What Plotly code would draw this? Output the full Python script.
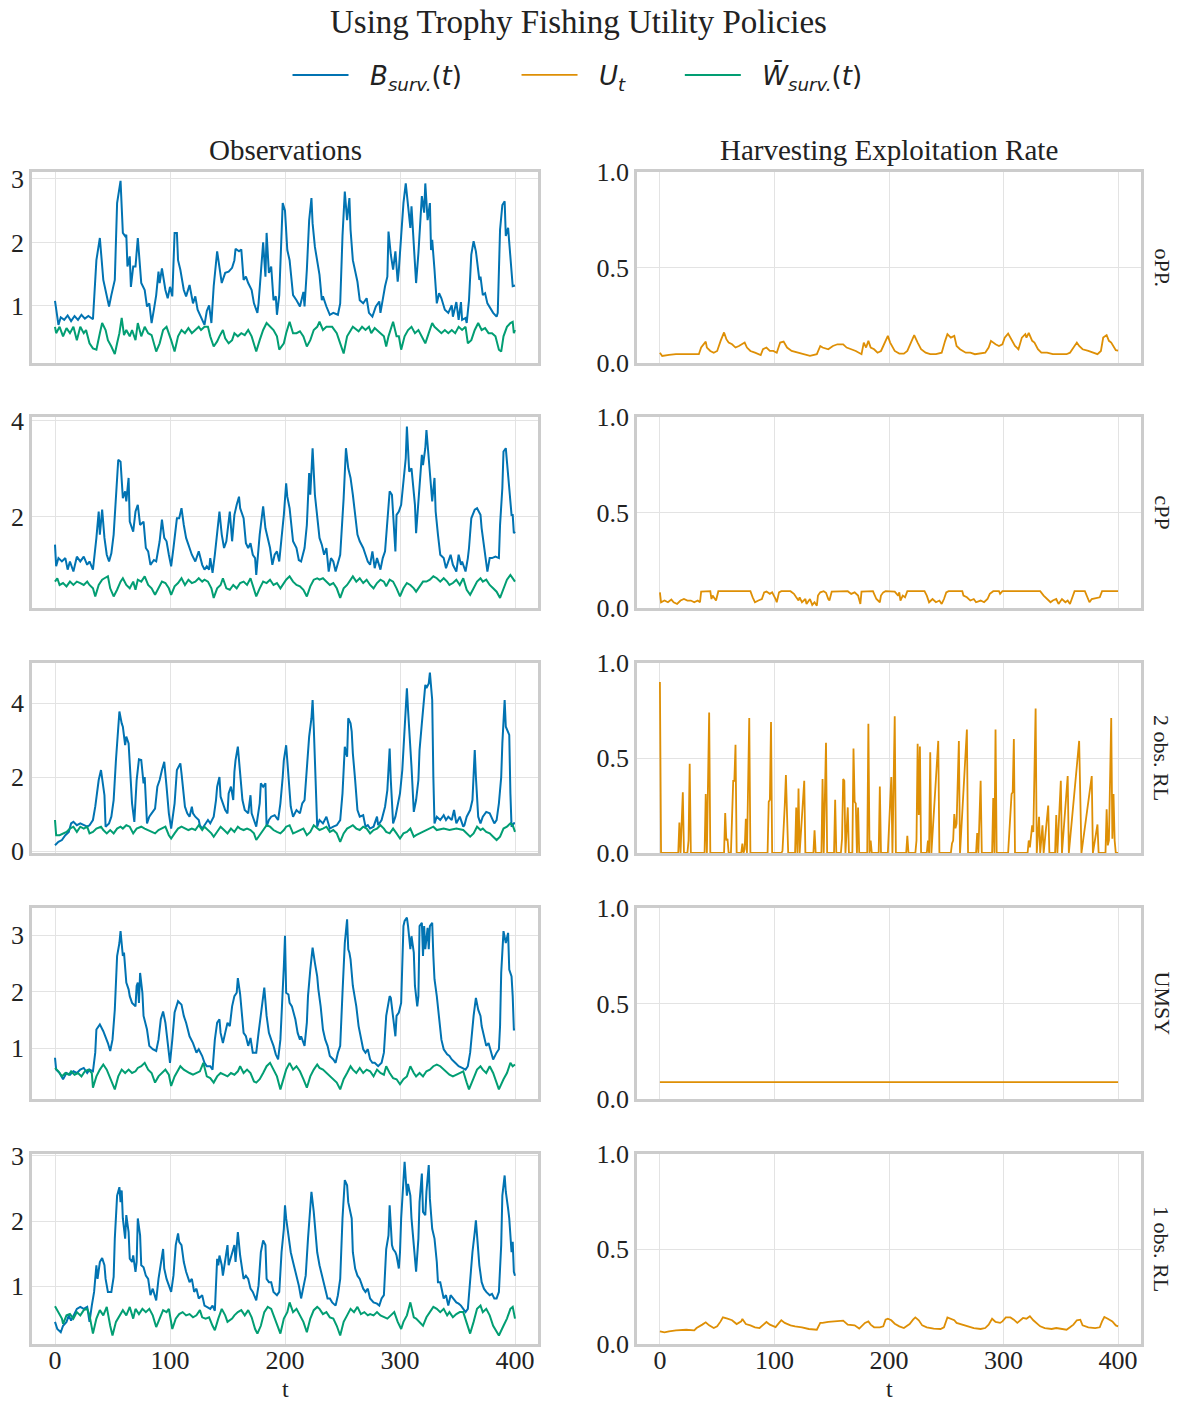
import plotly.graph_objects as go

# ---------------- data (t, value) ----------------
B_opp = [(0,1.08),(3,0.70),(5,0.82),(8,0.78),(11,0.85),(14,0.76),(17,0.84),(20,0.78),(23,0.86),(26,0.80),(29,0.84),(33,0.79),(36,1.72),(39,2.07),(42,1.41),(45,1.17),(47,0.99),(49,1.17),(52,1.41),(54,2.62),(57,2.97),(59,2.15),(61,2.10),(62,2.12),(63,1.62),(65,1.78),(66,1.30),(68,1.62),(70,1.62),(72,2.07),(74,1.67),(75,1.36),(78,1.25),(80,0.99),(82,1.04),(84,0.73),(86,0.94),(88,1.17),(90,1.54),(91,1.36),(93,1.59),(96,1.25),(98,1.12),(100,1.30),(102,1.15),(104,2.15),(106,2.15),(107,1.72),(109,1.57),(112,1.25),(114,1.15),(117,1.33),(120,1.04),(122,1.15),(124,0.94),(127,0.83),(130,0.70),(132,0.92),(134,1.01),(136,0.73),(138,1.31),(141,1.86),(143,1.57),(145,1.36),(148,1.52),(151,1.54),(154,1.60),(156,1.72),(157,1.90),(160,1.86),(162,1.89),(164,1.41),(166,1.46),(168,1.36),(171,1.25),(173,1.04),(176,0.89),(177,1.04),(181,2.00),(183,1.46),(184,2.15),(186,1.52),(188,1.62),(190,1.09),(192,1.15),(193,0.86),(195,1.17),(197,2.10),(198,2.62),(200,2.50),(202,1.88),(204,1.72),(206,1.41),(207,1.17),(210,1.09),(213,0.99),(216,1.22),(217,0.99),(219,1.57),(221,2.35),(223,2.70),(224,2.30),(226,1.93),(228,1.72),(230,1.49),(232,1.09),(233,1.15),(236,0.99),(239,0.86),(242,0.89),(246,0.86),(248,1.04),(250,2.10),(252,2.80),(254,2.35),(256,2.70),(257,2.20),(259,1.72),(261,1.54),(263,1.38),(265,1.09),(268,1.04),(271,1.12),(273,0.89),(276,0.83),(279,0.99),(282,1.07),(283,0.89),(287,1.31),(289,1.46),(290,2.17),(292,1.81),(294,1.57),(296,1.86),(298,1.38),(299,1.57),(301,2.10),(303,2.62),(305,2.93),(307,2.52),(309,2.23),(310,2.57),(312,1.86),(313,1.62),(314,1.36),(316,1.83),(317,2.15),(318,2.57),(319,2.73),(321,2.47),(322,2.93),(324,2.35),(326,2.62),(327,1.88),(328,2.04),(330,1.57),(332,1.04),(334,1.20),(336,1.12),(339,0.94),(342,0.89),(345,1.01),(346,0.83),(349,1.06),(351,0.78),(353,1.06),(354,0.78),(357,0.81),(358,0.73),(360,1.09),(362,1.81),(364,2.02),(366,1.86),(369,1.41),(370,1.46),(372,1.17),(374,1.20),(376,1.04),(379,0.94),(381,0.89),(384,0.83),(385,0.89),(387,2.20),(389,2.59),(391,2.65),(392,2.10),(394,2.23),(396,1.83),(397,1.57),(398,1.31),(400,1.32)]
W_opp = [(0,0.67),(1,0.57),(4,0.67),(7,0.52),(10,0.65),(13,0.57),(16,0.67),(19,0.46),(22,0.67),(25,0.57),(27,0.62),(30,0.41),(33,0.33),(36,0.31),(39,0.57),(41,0.73),(44,0.62),(46,0.46),(49,0.36),(52,0.24),(54,0.41),(56,0.57),(58,0.81),(60,0.54),(62,0.62),(65,0.52),(67,0.62),(70,0.46),(72,0.73),(75,0.52),(78,0.67),(81,0.57),(84,0.54),(86,0.41),(88,0.28),(91,0.41),(94,0.62),(97,0.67),(99,0.57),(101,0.46),(104,0.28),(107,0.52),(110,0.62),(113,0.57),(116,0.65),(119,0.57),(122,0.62),(125,0.67),(127,0.62),(130,0.67),(133,0.67),(135,0.52),(138,0.36),(141,0.44),(143,0.52),(146,0.62),(148,0.49),(151,0.41),(154,0.46),(156,0.57),(159,0.52),(162,0.57),(165,0.54),(168,0.62),(171,0.52),(173,0.41),(175,0.28),(178,0.46),(181,0.62),(184,0.73),(187,0.67),(190,0.62),(193,0.52),(195,0.31),(199,0.41),(201,0.57),(204,0.75),(207,0.57),(210,0.57),(213,0.60),(216,0.52),(219,0.36),(222,0.46),(225,0.62),(228,0.67),(230,0.75),(233,0.62),(236,0.67),(241,0.67),(245,0.57),(248,0.41),(251,0.25),(254,0.52),(257,0.62),(259,0.67),(264,0.60),(267,0.67),(270,0.62),(273,0.67),(275,0.57),(278,0.65),(283,0.57),(286,0.52),(288,0.36),(290,0.52),(294,0.75),(297,0.52),(299,0.52),(301,0.31),(304,0.52),(307,0.62),(310,0.67),(313,0.57),(316,0.62),(319,0.52),(322,0.41),(325,0.57),(328,0.73),(330,0.67),(333,0.62),(336,0.57),(339,0.62),(342,0.57),(345,0.62),(348,0.57),(351,0.67),(354,0.62),(357,0.67),(359,0.41),(362,0.46),(365,0.62),(368,0.73),(371,0.62),(374,0.65),(377,0.57),(380,0.57),(383,0.52),(386,0.31),(388,0.28),(390,0.52),(393,0.67),(396,0.73),(398,0.75),(399,0.57),(400,0.62)]
U_opp = [(0,0.054),(2,0.037),(8,0.042),(14,0.046),(22,0.046),(34,0.046),(36,0.081),(38,0.098),(40,0.112),(41,0.081),(44,0.063),(47,0.054),(50,0.063),(53,0.116),(56,0.160),(58,0.125),(60,0.107),(63,0.098),(66,0.081),(69,0.089),(72,0.098),(74,0.107),(76,0.081),(79,0.063),(83,0.054),(88,0.042),(90,0.072),(93,0.081),(96,0.063),(99,0.063),(102,0.054),(105,0.107),(108,0.112),(111,0.081),(115,0.063),(121,0.054),(127,0.046),(131,0.037),(137,0.046),(140,0.089),(142,0.081),(147,0.072),(151,0.089),(155,0.098),(160,0.098),(163,0.081),(167,0.072),(171,0.063),(176,0.046),(178,0.107),(180,0.081),(182,0.116),(184,0.081),(187,0.072),(190,0.054),(193,0.063),(195,0.089),(199,0.142),(201,0.107),(205,0.063),(209,0.049),(213,0.049),(216,0.063),(219,0.107),(222,0.146),(225,0.107),(228,0.072),(232,0.054),(236,0.046),(241,0.046),(246,0.054),(249,0.116),(251,0.151),(254,0.133),(257,0.142),(259,0.089),(262,0.072),(267,0.054),(271,0.054),(275,0.046),(281,0.049),(284,0.054),(287,0.081),(289,0.116),(293,0.098),(296,0.089),(299,0.098),(301,0.133),(304,0.154),(307,0.125),(310,0.089),(313,0.072),(316,0.133),(319,0.151),(320,0.133),(322,0.158),(325,0.116),(327,0.107),(330,0.072),(333,0.054),(338,0.054),(343,0.046),(349,0.046),(355,0.046),(358,0.054),(361,0.081),(364,0.107),(366,0.089),(369,0.072),(374,0.063),(378,0.054),(382,0.046),(385,0.063),(387,0.133),(390,0.146),(392,0.116),(394,0.107),(395,0.098),(398,0.067),(400,0.065)]

B_cpp = [(0,1.42),(1,0.97),(3,1.14),(6,1.07),(9,1.14),(11,0.90),(13,1.07),(16,0.86),(19,1.17),(22,1.07),(25,1.17),(28,1.0),(30,1.07),(33,0.90),(36,1.56),(38,2.11),(39,1.63),(41,2.15),(43,1.56),(45,1.21),(47,1.07),(49,1.24),(51,1.63),(53,2.32),(55,3.19),(57,3.15),(59,2.39),(61,2.53),(62,2.32),(64,2.81),(65,1.90),(68,1.69),(70,2.11),(72,2.25),(74,1.83),(77,1.90),(79,1.35),(81,1.28),(83,1.0),(86,1.10),(88,1.07),(91,1.49),(93,1.94),(95,1.56),(97,1.49),(99,1.21),(101,0.97),(103,1.35),(106,1.97),(108,1.97),(110,2.18),(112,1.83),(114,1.56),(116,1.42),(119,1.21),(122,1.07),(125,1.28),(128,1.0),(130,0.90),(132,0.97),(134,0.90),(135,1.14),(137,0.83),(139,1.21),(141,1.69),(143,2.11),(145,1.63),(147,1.35),(149,1.49),(151,1.83),(152,2.11),(154,1.49),(156,2.04),(158,2.25),(160,2.42),(161,2.18),(164,1.97),(166,1.45),(168,1.35),(170,1.45),(172,1.21),(174,1.14),(175,0.79),(178,1.63),(181,2.22),(183,1.76),(185,1.56),(187,1.35),(189,1.0),(191,1.21),(193,1.28),(195,1.07),(197,1.56),(199,2.04),(201,2.70),(202,2.42),(204,2.18),(206,1.69),(207,1.49),(210,1.35),(212,1.10),(214,1.07),(217,1.35),(219,1.83),(221,2.91),(222,2.46),(224,3.43),(226,2.46),(228,1.97),(230,1.56),(232,1.42),(234,1.21),(236,1.35),(238,0.86),(240,1.14),(242,1.07),(244,0.86),(246,1.07),(248,1.21),(251,2.39),(253,3.43),(255,3.01),(257,2.81),(259,2.46),(261,2.04),(263,1.63),(265,1.49),(268,1.35),(270,1.21),(272,1.07),(274,1.0),(276,1.28),(278,0.93),(280,1.14),(283,0.90),(285,1.14),(287,1.28),(289,1.97),(291,2.53),(293,2.46),(294,2.04),(296,1.28),(297,2.04),(299,2.11),(301,2.25),(303,2.81),(305,3.22),(306,3.88),(308,2.94),(310,3.01),(312,2.53),(313,2.25),(314,1.66),(317,2.53),(319,3.29),(320,3.08),(322,3.43),(323,3.81),(325,3.22),(326,3.08),(328,2.32),(330,2.81),(331,2.11),(333,1.63),(335,1.21),(338,1.14),(340,0.93),(342,1.07),(344,1.21),(346,1.0),(349,0.86),(351,1.21),(353,1.0),(354,1.07),(357,0.86),(359,1.14),(360,1.35),(362,1.97),(365,2.15),(367,2.18),(370,2.04),(371,1.76),(373,1.42),(375,1.14),(376,0.86),(378,1.14),(380,1.14),(383,1.17),(386,1.14),(387,1.83),(389,2.60),(390,3.36),(392,3.43),(393,3.15),(395,2.53),(397,2.04),(398,2.04),(399,1.66),(400,1.69)]
W_cpp = [(0,0.65),(2,0.72),(4,0.58),(7,0.62),(10,0.55),(13,0.65),(16,0.58),(19,0.65),(22,0.62),(25,0.58),(28,0.65),(30,0.58),(33,0.51),(35,0.34),(38,0.58),(41,0.69),(43,0.72),(46,0.76),(48,0.51),(51,0.34),(54,0.48),(57,0.65),(59,0.72),(62,0.58),(65,0.51),(68,0.65),(70,0.48),(72,0.69),(75,0.65),(78,0.76),(81,0.58),(84,0.51),(87,0.375),(90,0.51),(93,0.65),(96,0.62),(99,0.51),(101,0.375),(104,0.55),(107,0.62),(110,0.72),(113,0.58),(116,0.69),(119,0.62),(122,0.65),(125,0.72),(128,0.65),(130,0.69),(133,0.65),(136,0.51),(138,0.31),(141,0.51),(144,0.58),(146,0.72),(149,0.51),(152,0.48),(155,0.58),(158,0.51),(161,0.62),(164,0.65),(167,0.58),(170,0.72),(172,0.58),(175,0.34),(178,0.51),(181,0.65),(184,0.62),(187,0.69),(190,0.58),(193,0.62),(196,0.51),(199,0.62),(201,0.69),(204,0.76),(207,0.65),(210,0.58),(213,0.55),(216,0.48),(219,0.34),(222,0.55),(225,0.69),(228,0.72),(230,0.69),(233,0.72),(236,0.65),(239,0.58),(242,0.62),(245,0.51),(248,0.31),(251,0.51),(254,0.58),(257,0.69),(259,0.76),(262,0.65),(265,0.72),(268,0.62),(271,0.69),(274,0.58),(277,0.51),(280,0.62),(283,0.69),(286,0.65),(288,0.55),(291,0.69),(294,0.65),(297,0.51),(300,0.34),(303,0.51),(306,0.62),(309,0.58),(312,0.51),(314,0.44),(317,0.55),(320,0.65),(323,0.65),(326,0.69),(329,0.76),(332,0.72),(335,0.65),(338,0.72),(341,0.65),(343,0.58),(346,0.62),(349,0.69),(352,0.58),(355,0.72),(358,0.48),(361,0.375),(364,0.51),(367,0.65),(370,0.72),(372,0.65),(375,0.69),(378,0.58),(381,0.51),(384,0.44),(387,0.31),(390,0.51),(393,0.69),(396,0.79),(398,0.72),(400,0.65)]
U_cpp = [(0,0.082),(1,0.030),(4,0.039),(7,0.030),(10,0.044),(12,0.030),(15,0.021),(18,0.039),(21,0.047),(24,0.039),(27,0.039),(30,0.030),(33,0.039),(35,0.030),(36,0.086),(44,0.088),(45,0.047),(46,0.065),(47,0.056),(49,0.039),(51,0.088),(79,0.088),(81,0.056),(83,0.030),(86,0.039),(89,0.047),(91,0.082),(93,0.086),(96,0.074),(98,0.082),(101,0.047),(102,0.030),(104,0.082),(106,0.088),(114,0.088),(117,0.074),(119,0.056),(121,0.039),(122,0.056),(124,0.030),(127,0.047),(128,0.021),(131,0.047),(133,0.016),(135,0.030),(137,0.012),(138,0.065),(140,0.082),(143,0.088),(145,0.080),(147,0.047),(148,0.039),(150,0.086),(164,0.088),(167,0.074),(170,0.082),(173,0.065),(175,0.021),(176,0.086),(186,0.088),(187,0.074),(189,0.047),(192,0.030),(193,0.065),(195,0.082),(197,0.088),(205,0.086),(208,0.065),(209,0.082),(210,0.039),(212,0.065),(214,0.056),(216,0.088),(231,0.088),(233,0.065),(235,0.030),(238,0.047),(241,0.030),(244,0.039),(246,0.021),(248,0.047),(250,0.082),(252,0.088),(264,0.088),(265,0.065),(268,0.056),(271,0.039),(274,0.047),(276,0.030),(280,0.039),(283,0.030),(286,0.047),(288,0.074),(291,0.088),(296,0.088),(297,0.074),(299,0.088),(332,0.088),(335,0.065),(338,0.047),(341,0.030),(343,0.039),(346,0.047),(348,0.021),(351,0.047),(354,0.030),(356,0.039),(358,0.021),(361,0.065),(362,0.088),(371,0.088),(373,0.056),(375,0.030),(377,0.047),(381,0.051),(384,0.056),(386,0.088),(400,0.088)]

B_rl2 = [(0,0.16),(3,0.25),(6,0.30),(9,0.43),(12,0.52),(14,0.75),(16,0.79),(19,0.70),(22,0.75),(25,0.70),(28,0.66),(30,0.70),(33,0.84),(35,1.2),(38,1.92),(40,2.19),(41,1.96),(43,1.51),(44,0.66),(47,0.75),(49,0.93),(51,1.38),(53,2.46),(55,3.36),(56,3.77),(58,3.45),(59,3.36),(61,2.86),(62,3.09),(64,2.91),(66,1.83),(67,1.29),(69,0.79),(71,1.92),(73,2.48),(75,2.46),(77,1.83),(78,2.0),(80,0.75),(82,0.93),(84,1.02),(87,1.15),(89,1.74),(91,1.92),(93,2.19),(95,2.41),(97,1.74),(99,1.02),(101,0.61),(104,1.29),(106,2.19),(109,2.37),(110,2.10),(112,1.56),(113,1.20),(115,1.02),(117,0.93),(119,1.20),(120,1.02),(122,0.93),(125,0.84),(126,0.70),(128,0.61),(130,0.70),(133,0.84),(135,0.75),(138,0.93),(140,1.38),(141,1.74),(143,2.0),(144,1.47),(146,1.29),(148,1.11),(150,1.02),(151,1.56),(153,1.74),(155,1.38),(156,2.14),(157,2.46),(159,2.82),(160,2.46),(162,1.92),(163,1.38),(165,1.11),(168,1.02),(170,1.51),(171,1.02),(173,0.84),(175,0.66),(178,1.29),(179,1.83),(181,1.74),(183,1.83),(184,0.66),(186,0.84),(188,0.93),(191,0.97),(194,0.84),(196,1.29),(198,2.0),(199,2.46),(201,2.86),(202,2.46),(204,1.83),(205,1.20),(207,0.93),(210,1.11),(213,1.02),(215,1.29),(217,1.38),(219,2.19),(221,3.09),(223,3.59),(224,4.08),(225,3.36),(227,1.83),(228,0.66),(230,0.84),(233,0.75),(236,0.93),(239,0.61),(242,0.66),(245,0.70),(248,0.84),(250,1.56),(252,2.82),(254,2.55),(255,3.59),(257,3.45),(258,3.23),(259,2.64),(261,1.92),(263,1.11),(265,0.93),(268,0.97),(270,0.66),(272,0.70),(274,0.61),(277,0.66),(280,0.93),(281,0.70),(284,0.84),(287,1.20),(289,1.65),(291,2.77),(292,1.92),(294,0.75),(296,0.93),(298,1.29),(300,1.56),(302,2.19),(304,3.36),(306,4.40),(307,3.81),(309,2.91),(310,2.28),(312,1.06),(314,1.38),(316,1.92),(317,2.73),(319,3.45),(320,3.81),(322,4.49),(323,4.40),(325,4.53),(326,4.82),(328,4.08),(329,2.0),(330,0.75),(332,0.93),(335,0.84),(338,0.97),(340,0.84),(342,0.93),(345,0.84),(347,1.11),(349,0.75),(352,0.93),(355,0.66),(356,0.70),(358,0.93),(361,1.11),(363,1.38),(364,2.05),(365,2.73),(366,2.0),(368,0.93),(370,0.75),(372,0.93),(375,1.06),(378,1.02),(382,0.75),(384,0.84),(386,1.29),(388,2.0),(389,2.91),(391,4.08),(392,3.36),(394,3.23),(395,3.14),(396,1.56),(397,0.66),(399,0.75),(400,0.75)]
W_rl2 = [(0,0.84),(1,0.43),(4,0.43),(7,0.48),(10,0.52),(13,0.61),(16,0.66),(19,0.52),(22,0.66),(25,0.61),(28,0.66),(30,0.48),(33,0.52),(36,0.61),(40,0.66),(42,0.57),(45,0.48),(48,0.57),(51,0.48),(54,0.61),(57,0.66),(59,0.61),(62,0.70),(65,0.66),(68,0.48),(71,0.61),(75,0.66),(78,0.61),(81,0.57),(84,0.52),(87,0.48),(90,0.57),(93,0.61),(96,0.66),(99,0.43),(101,0.34),(104,0.48),(107,0.61),(110,0.66),(113,0.61),(116,0.57),(119,0.61),(122,0.57),(125,0.70),(128,0.57),(130,0.66),(133,0.57),(136,0.48),(138,0.39),(141,0.52),(144,0.66),(147,0.57),(150,0.48),(153,0.61),(156,0.52),(159,0.66),(161,0.61),(164,0.57),(167,0.61),(170,0.57),(173,0.48),(175,0.30),(178,0.43),(181,0.57),(184,0.70),(187,0.66),(190,0.57),(193,0.52),(196,0.48),(199,0.57),(201,0.66),(204,0.70),(207,0.48),(210,0.52),(213,0.57),(216,0.61),(219,0.43),(222,0.52),(225,0.70),(228,0.61),(230,0.57),(233,0.61),(236,0.66),(239,0.52),(242,0.57),(245,0.48),(248,0.25),(251,0.48),(254,0.61),(257,0.66),(259,0.70),(262,0.61),(265,0.57),(268,0.66),(271,0.61),(274,0.48),(277,0.57),(280,0.61),(283,0.70),(286,0.61),(288,0.52),(291,0.48),(294,0.61),(297,0.48),(300,0.34),(303,0.48),(306,0.52),(309,0.61),(312,0.39),(314,0.43),(317,0.48),(320,0.52),(323,0.57),(326,0.61),(329,0.66),(332,0.57),(338,0.61),(343,0.57),(349,0.61),(355,0.57),(358,0.48),(361,0.39),(364,0.48),(367,0.66),(370,0.57),(372,0.61),(375,0.52),(378,0.48),(381,0.39),(384,0.30),(387,0.39),(390,0.61),(393,0.66),(396,0.75),(398,0.70),(400,0.52)]
U_rl2 = [(0,0.90),(1,0),(16,0),(17,0.16),(18,0),(20,0.32),(21,0),(24,0),(25,0.066),(26,0.47),(27,0),(39,0),(40,0.31),(41,0),(43,0.74),(44,0),(56,0),(57,0.21),(58,0.066),(59,0.075),(60,0),(62,0),(63,0.19),(64,0.38),(65,0.38),(66,0.57),(67,0),(71,0),(72,0.05),(73,0),(74,0.02),(75,0.18),(76,0),(78,0.71),(79,0),(94,0),(95,0.27),(96,0.28),(97,0.69),(98,0),(106,0),(107,0.01),(109,0.25),(110,0.41),(111,0.2),(112,0),(118,0),(119,0.24),(120,0),(121,0.34),(122,0),(126,0.38),(127,0),(134,0),(135,0.12),(136,0),(141,0),(142,0.39),(143,0),(145,0.58),(146,0),(152,0),(153,0.28),(154,0),(158,0),(159,0.075),(160,0.39),(161,0.38),(162,0),(164,0.24),(165,0),(168,0),(169,0.55),(170,0.27),(171,0.26),(172,0),(173,0.24),(174,0),(181,0),(182,0.68),(183,0),(184,0.066),(185,0),(191,0),(192,0.35),(193,0),(199,0),(200,0.14),(202,0.40),(203,0),(205,0.72),(206,0),(215,0),(216,0.09),(217,0),(223,0),(224,0.066),(225,0.575),(226,0.20),(227,0.56),(228,0),(233,0),(234,0.066),(235,0),(236,0.53),(237,0),(243,0.59),(244,0),(254,0),(255,0.05),(256,0.066),(257,0.205),(258,0.13),(259,0.155),(261,0.59),(262,0),(268,0.65),(269,0),(276,0),(277,0.105),(278,0),(280,0.38),(281,0),(290,0),(291,0.29),(292,0),(293,0.65),(294,0),(304,0),(307,0.31),(308,0.32),(309,0.60),(310,0),(321,0),(322,0.066),(323,0.03),(325,0.146),(326,0.11),(328,0.76),(329,0),(331,0.19),(332,0),(334,0.146),(335,0),(339,0.25),(340,0),(345,0),(346,0.2),(347,0),(350,0.38),(351,0),(356,0.405),(357,0),(366,0.59),(367,0.31),(368,0),(377,0.405),(378,0),(382,0.15),(383,0),(389,0),(390,0.23),(391,0.04),(392,0.066),(394,0.71),(395,0.075),(396,0.31),(397,0.066),(398,0),(400,0)]

B_umsy = [(0,0.83),(1,0.62),(4,0.56),(7,0.45),(10,0.56),(13,0.53),(16,0.59),(19,0.56),(22,0.62),(25,0.65),(28,0.56),(30,0.62),(33,0.59),(35,0.92),(36,1.33),(39,1.42),(42,1.30),(44,1.21),(46,1.09),(48,0.95),(50,1.15),(52,1.68),(54,2.63),(56,2.86),(57,3.07),(59,2.63),(60,2.69),(62,2.16),(64,2.04),(65,1.92),(67,1.80),(70,1.74),(71,2.10),(72,2.16),(73,1.80),(74,2.33),(76,1.98),(77,1.57),(80,1.33),(82,1.04),(85,0.98),(88,0.95),(90,1.15),(92,1.51),(94,1.65),(96,1.45),(98,1.09),(100,0.74),(102,1.15),(104,1.63),(107,1.83),(110,1.77),(112,1.57),(114,1.45),(117,1.21),(120,1.09),(123,0.92),(125,0.98),(128,0.86),(130,0.74),(132,0.68),(135,0.68),(137,0.62),(139,1.15),(141,1.45),(143,1.51),(144,1.27),(146,1.09),(148,1.27),(150,1.45),(152,1.39),(154,1.74),(156,1.92),(158,1.98),(159,2.24),(161,1.95),(164,1.27),(166,1.21),(168,1.04),(170,1.18),(172,0.92),(175,0.92),(177,1.27),(179,1.63),(181,1.89),(182,2.07),(184,1.57),(186,1.27),(188,1.15),(190,1.04),(192,0.89),(194,0.80),(196,1.15),(198,1.92),(199,2.45),(200,2.99),(201,1.98),(203,1.95),(204,1.80),(206,1.74),(209,1.51),(211,1.27),(213,1.15),(214,1.21),(217,1.04),(219,1.45),(220,1.92),(222,2.39),(224,2.78),(226,2.51),(228,2.27),(229,2.04),(231,1.74),(233,1.33),(235,1.15),(237,1.04),(239,0.86),(242,0.80),(244,0.74),(246,0.92),(248,1.04),(250,1.98),(252,2.86),(254,3.28),(255,2.75),(256,2.69),(257,2.57),(259,2.10),(262,1.74),(264,1.39),(266,1.15),(268,0.98),(270,0.92),(272,0.98),(274,0.80),(276,0.74),(278,0.74),(281,0.68),(284,0.74),(286,0.92),(288,1.57),(291,1.92),(292,1.89),(294,1.51),(296,1.21),(297,1.57),(299,1.63),(301,1.80),(303,3.16),(304,3.25),(306,3.31),(307,3.16),(309,2.75),(310,2.98),(312,2.69),(313,2.10),(315,1.74),(316,1.92),(317,3.16),(319,3.22),(320,2.63),(321,3.16),(322,2.75),(324,3.13),(325,2.75),(326,3.16),(328,3.22),(329,2.63),(330,2.22),(332,1.92),(334,1.51),(336,1.15),(338,0.98),(341,0.89),(343,0.86),(345,0.80),(348,0.74),(351,0.68),(354,0.65),(357,0.62),(359,0.68),(361,0.92),(364,1.57),(366,1.89),(368,1.68),(370,1.57),(371,1.39),(373,1.21),(375,1.04),(377,1.09),(379,0.92),(381,0.80),(384,0.92),(386,0.98),(387,1.39),(388,2.33),(390,3.07),(391,2.98),(392,2.86),(394,3.04),(395,2.39),(397,2.27),(398,1.92),(399,1.33),(400,1.33)]
W_umsy = [(0,0.65),(3,0.59),(6,0.50),(9,0.56),(12,0.53),(14,0.59),(17,0.53),(20,0.56),(23,0.50),(26,0.59),(29,0.62),(32,0.56),(33,0.30),(36,0.50),(39,0.62),(42,0.71),(45,0.62),(48,0.47),(51,0.33),(52,0.27),(55,0.50),(58,0.62),(61,0.56),(64,0.62),(67,0.56),(70,0.59),(72,0.65),(75,0.68),(78,0.74),(81,0.62),(84,0.56),(87,0.39),(90,0.50),(93,0.56),(96,0.62),(99,0.53),(101,0.33),(104,0.50),(109,0.68),(112,0.62),(114,0.59),(117,0.56),(120,0.53),(123,0.56),(126,0.59),(129,0.74),(132,0.50),(135,0.47),(138,0.39),(141,0.50),(144,0.56),(147,0.53),(150,0.50),(153,0.56),(156,0.53),(159,0.59),(161,0.68),(164,0.56),(167,0.62),(170,0.56),(173,0.41),(175,0.39),(178,0.45),(181,0.56),(184,0.68),(187,0.74),(190,0.62),(193,0.50),(196,0.27),(199,0.50),(201,0.62),(204,0.74),(207,0.62),(210,0.68),(213,0.59),(216,0.45),(219,0.30),(222,0.50),(225,0.62),(228,0.71),(230,0.65),(233,0.62),(236,0.56),(239,0.50),(242,0.45),(245,0.39),(248,0.27),(251,0.45),(254,0.56),(257,0.68),(259,0.62),(262,0.56),(265,0.65),(268,0.56),(271,0.62),(274,0.59),(277,0.50),(280,0.62),(283,0.56),(286,0.53),(288,0.68),(291,0.56),(294,0.47),(297,0.45),(300,0.36),(303,0.45),(306,0.50),(309,0.68),(312,0.56),(314,0.50),(317,0.56),(320,0.50),(323,0.59),(326,0.62),(329,0.68),(332,0.71),(335,0.68),(338,0.62),(341,0.56),(343,0.53),(346,0.50),(349,0.53),(352,0.56),(355,0.59),(358,0.39),(360,0.27),(364,0.47),(367,0.62),(370,0.68),(372,0.62),(375,0.56),(378,0.68),(381,0.56),(384,0.39),(386,0.27),(390,0.45),(393,0.56),(396,0.74),(398,0.68),(400,0.71)]
U_umsy = [(0,0.088),(400,0.088)]

B_rl1 = [(0,0.45),(2,0.34),(5,0.29),(7,0.39),(10,0.45),(12,0.55),(14,0.47),(16,0.55),(19,0.65),(22,0.68),(25,0.65),(28,0.68),(30,0.45),(32,0.70),(34,0.91),(36,1.32),(37,1.11),(39,1.37),(41,1.43),(43,1.32),(44,1.11),(46,0.91),(49,0.91),(51,1.14),(52,1.73),(54,2.39),(56,2.52),(57,2.29),(58,2.47),(59,2.04),(61,1.73),(62,2.09),(64,1.83),(65,1.42),(67,1.37),(68,1.47),(70,1.22),(71,1.37),(72,2.04),(74,1.78),(75,1.32),(77,1.29),(79,1.16),(81,1.11),(83,0.86),(85,0.96),(88,0.78),(90,1.11),(92,1.32),(94,1.57),(95,1.27),(97,1.11),(99,1.01),(101,0.91),(103,1.16),(105,1.63),(107,1.81),(108,1.68),(110,1.63),(112,1.37),(114,1.22),(117,1.06),(119,1.11),(121,0.91),(123,0.96),(125,0.81),(128,0.86),(130,0.70),(132,0.68),(135,0.65),(137,0.70),(139,0.62),(141,1.42),(142,1.32),(143,1.47),(145,1.32),(146,1.16),(148,1.37),(150,1.63),(151,1.32),(154,1.52),(156,1.63),(157,1.37),(159,1.83),(161,1.47),(164,1.11),(166,1.16),(168,1.11),(170,0.96),(172,0.91),(175,0.78),(177,1.01),(179,1.52),(181,1.70),(183,1.63),(184,1.11),(186,1.06),(188,1.06),(190,0.91),(193,0.86),(195,0.91),(197,1.52),(199,1.88),(200,2.24),(201,2.04),(203,1.73),(205,1.52),(207,1.37),(210,1.16),(212,1.01),(214,0.81),(216,0.96),(218,1.16),(220,1.73),(222,2.14),(223,2.45),(225,2.14),(226,1.88),(228,1.52),(230,1.32),(233,1.11),(235,0.96),(237,0.81),(239,0.81),(241,0.75),(244,0.70),(246,0.86),(248,1.11),(250,2.04),(252,2.63),(254,2.55),(255,2.29),(257,2.09),(258,2.04),(259,1.52),(261,1.27),(263,1.16),(265,1.11),(268,0.96),(270,0.91),(272,0.96),(274,0.81),(277,0.75),(280,0.73),(282,0.70),(284,0.81),(286,0.86),(288,1.57),(290,1.78),(291,2.24),(293,1.63),(294,1.57),(296,1.52),(297,1.47),(299,1.27),(300,1.52),(301,2.04),(303,2.60),(304,2.91),(306,2.39),(307,2.57),(309,2.39),(310,2.04),(312,1.63),(314,1.22),(316,1.73),(317,2.29),(319,2.73),(320,2.14),(322,2.09),(323,2.45),(325,2.86),(326,2.34),(328,1.88),(330,1.73),(332,1.37),(333,1.06),(335,1.06),(338,0.81),(340,0.86),(342,0.70),(344,0.86),(346,0.81),(349,0.75),(351,0.73),(353,0.70),(355,0.65),(357,0.60),(359,0.65),(361,1.11),(363,1.52),(365,1.83),(366,2.01),(367,1.78),(369,1.32),(371,1.06),(373,0.96),(375,0.91),(378,0.86),(380,0.88),(382,0.81),(384,0.81),(386,0.91),(388,1.63),(389,2.39),(391,2.70),(392,2.45),(394,2.19),(395,2.04),(397,1.52),(398,1.68),(399,1.22),(400,1.16)]
W_rl1 = [(0,0.69),(3,0.60),(6,0.50),(7,0.42),(10,0.55),(13,0.57),(16,0.50),(19,0.60),(22,0.55),(25,0.63),(28,0.65),(30,0.55),(33,0.27),(36,0.50),(39,0.63),(42,0.55),(45,0.68),(48,0.39),(50,0.24),(53,0.45),(56,0.55),(59,0.63),(62,0.55),(65,0.68),(68,0.50),(70,0.65),(73,0.57),(76,0.65),(79,0.60),(82,0.65),(85,0.55),(88,0.37),(91,0.50),(94,0.63),(97,0.60),(99,0.65),(102,0.34),(105,0.50),(108,0.57),(111,0.60),(114,0.55),(117,0.57),(120,0.52),(123,0.55),(126,0.63),(128,0.52),(131,0.50),(134,0.52),(137,0.39),(139,0.32),(142,0.50),(145,0.65),(148,0.55),(150,0.45),(154,0.50),(156,0.55),(159,0.60),(162,0.63),(165,0.55),(168,0.63),(171,0.52),(174,0.34),(176,0.27),(179,0.39),(182,0.60),(185,0.68),(188,0.65),(190,0.55),(193,0.42),(196,0.27),(199,0.50),(202,0.60),(204,0.75),(207,0.60),(210,0.65),(213,0.55),(216,0.45),(219,0.29),(222,0.50),(225,0.63),(228,0.68),(230,0.65),(233,0.57),(236,0.60),(239,0.52),(242,0.50),(245,0.39),(248,0.24),(251,0.45),(254,0.55),(257,0.65),(260,0.60),(263,0.68),(266,0.57),(269,0.60),(272,0.55),(274,0.57),(277,0.55),(280,0.60),(283,0.55),(286,0.52),(289,0.50),(292,0.55),(295,0.60),(298,0.45),(301,0.34),(303,0.45),(306,0.55),(309,0.75),(312,0.52),(314,0.50),(317,0.45),(320,0.39),(323,0.52),(326,0.60),(329,0.68),(332,0.65),(335,0.60),(338,0.65),(341,0.55),(343,0.60),(346,0.52),(349,0.57),(352,0.60),(355,0.60),(358,0.45),(361,0.27),(364,0.45),(367,0.65),(370,0.70),(372,0.60),(375,0.65),(378,0.55),(381,0.39),(384,0.29),(386,0.24),(390,0.39),(393,0.50),(396,0.65),(398,0.68),(400,0.50)]
U_rl1 = [(0,0.067),(4,0.061),(8,0.067),(14,0.072),(23,0.075),(28,0.075),(30,0.072),(32,0.084),(35,0.093),(37,0.102),(40,0.114),(43,0.098),(47,0.084),(50,0.093),(53,0.119),(55,0.140),(59,0.133),(63,0.125),(67,0.105),(71,0.119),(72,0.132),(75,0.105),(79,0.098),(83,0.088),(87,0.084),(90,0.102),(93,0.116),(96,0.102),(101,0.089),(104,0.111),(106,0.125),(109,0.111),(114,0.098),(118,0.093),(124,0.088),(130,0.079),(137,0.075),(140,0.111),(142,0.111),(147,0.116),(151,0.119),(155,0.123),(160,0.123),(164,0.102),(170,0.098),(174,0.081),(179,0.111),(182,0.119),(184,0.102),(187,0.088),(192,0.088),(195,0.093),(197,0.128),(199,0.133),(202,0.125),(205,0.107),(209,0.093),(213,0.084),(218,0.105),(221,0.128),(223,0.140),(226,0.125),(229,0.098),(233,0.088),(239,0.081),(245,0.079),(248,0.088),(251,0.140),(254,0.133),(257,0.125),(259,0.111),(264,0.102),(268,0.093),(274,0.084),(280,0.079),(284,0.084),(287,0.102),(290,0.133),(293,0.116),(297,0.111),(299,0.119),(302,0.140),(306,0.140),(309,0.128),(312,0.111),(315,0.128),(317,0.137),(320,0.133),(323,0.146),(326,0.125),(329,0.111),(332,0.093),(336,0.084),(342,0.079),(346,0.084),(350,0.081),(355,0.075),(358,0.088),(361,0.102),(364,0.125),(367,0.128),(369,0.098),(374,0.088),(380,0.084),(384,0.088),(386,0.119),(388,0.142),(391,0.133),(394,0.125),(395,0.119),(398,0.098),(400,0.093)]

row_labels = ["oPP.", "cPP", "2 obs. RL", "UMSY", "1 obs. RL"]
left_ranges = [[0.10, 3.11], [0.10, 4.08], [-0.05, 5.08], [0.10, 3.48], [0.11, 3.03]]
left_ticks = [[1, 2, 3], [2, 4], [0, 2, 4], [1, 2, 3], [1, 2, 3]]
x_ticks = [0, 100, 200, 300, 400]
right_ticks = [0.0, 0.5, 1.0]
right_tick_text = ["0.0", "0.5", "1.0"]

B_series = [B_opp, B_cpp, B_rl2, B_umsy, B_rl1]
W_series = [W_opp, W_cpp, W_rl2, W_umsy, W_rl1]
U_series = [U_opp, U_cpp, U_rl2, U_umsy, U_rl1]

# ---------------- styling ----------------
W_FIG, H_FIG = 1181, 1403
BLUE, ORANGE, GREEN = "#0173b2", "#de8f05", "#029e73"
SERIF = "Liberation Serif, Times New Roman, serif"
SANS = "DejaVu Sans, sans-serif"
FRAME = "#cccccc"
GRID = "#e3e3e3"
TXT = "#222222"
NB = "\u00a0"

left_x = [32 / W_FIG, 538 / W_FIG]
right_x = [637 / W_FIG, 1141 / W_FIG]
rows_px = [(172, 363), (417, 608), (663, 853), (908, 1099), (1154, 1344)]

def unzip(pairs):
    return [p[0] for p in pairs], [p[1] for p in pairs]

fig = go.Figure()
layout = dict(
    width=W_FIG, height=H_FIG,
    margin=dict(l=0, r=0, t=0, b=0, autoexpand=False),
    paper_bgcolor="white", plot_bgcolor="white",
    font=dict(family=SERIF, size=26, color=TXT),
    showlegend=True,
    legend=dict(orientation="h", x=0.489, xanchor="center", y=1 - 75 / H_FIG, yanchor="middle",
                font=dict(family=SANS, size=26, color=TXT), itemwidth=56,
                bgcolor="rgba(0,0,0,0)", tracegroupgap=0),
)

annotations = [
    dict(text="Using Trophy Fishing Utility Policies", x=0.49, y=1 - 22 / H_FIG, xref="paper", yref="paper",
         showarrow=False, font=dict(family=SERIF, size=33, color=TXT), xanchor="center", yanchor="middle"),
    dict(text="Observations", x=sum(left_x) / 2, y=1 - 150 / H_FIG, xref="paper", yref="paper",
         showarrow=False, font=dict(family=SERIF, size=29, color=TXT), xanchor="center", yanchor="middle"),
    dict(text="Harvesting Exploitation Rate", x=sum(right_x) / 2, y=1 - 150 / H_FIG, xref="paper", yref="paper",
         showarrow=False, font=dict(family=SERIF, size=29, color=TXT), xanchor="center", yanchor="middle"),
]
for xdom in (left_x, right_x):
    annotations.append(dict(text="t", x=sum(xdom) / 2, y=0, xref="paper", yref="paper",
                            showarrow=False, font=dict(family=SERIF, size=24, color=TXT),
                            xanchor="center", yanchor="bottom", borderpad=0))

tickfont = dict(family=SERIF, size=26, color=TXT)
for i in range(5):
    top, bot = rows_px[i]
    ydom = [1 - bot / H_FIG, 1 - top / H_FIG]
    last = (i == 4)
    for j, xdom in enumerate([left_x, right_x]):
        k = 2 * i + j + 1
        xa = "xaxis" if k == 1 else f"xaxis{k}"
        ya = "yaxis" if k == 1 else f"yaxis{k}"
        xref = "x" if k == 1 else f"x{k}"
        yref = "y" if k == 1 else f"y{k}"
        layout[xa] = dict(domain=xdom, anchor=yref, range=[-20, 420], tickvals=x_ticks,
                          showticklabels=last, showgrid=True, gridcolor=GRID, gridwidth=1,
                          zeroline=False, showline=True, mirror=True, linecolor=FRAME, linewidth=2.5,
                          ticks="", ticklabelstandoff=-9, automargin=False, tickfont=tickfont)
        common_y = dict(domain=ydom, anchor=xref, showgrid=True, gridcolor=GRID, gridwidth=1, zeroline=False,
                        showline=True, mirror=True, linecolor=FRAME, linewidth=2.5,
                        ticks="", ticklabelstandoff=0, automargin=False, tickfont=tickfont)
        if j == 0:
            layout[ya] = dict(common_y, range=left_ranges[i], tickvals=left_ticks[i])
            bt, bv = unzip(B_series[i])
            wt, wv = unzip(W_series[i])
            fig.add_trace(go.Scatter(x=bt, y=bv, mode="lines", line=dict(color=BLUE, width=2),
                                     xaxis=xref, yaxis=yref, showlegend=(i == 0), legendrank=1,
                                     name=NB * 2 + "<i>B</i><sub><i>surv.</i></sub>(<i>t</i>)" + NB * 6))
            fig.add_trace(go.Scatter(x=wt, y=wv, mode="lines", line=dict(color=GREEN, width=2),
                                     xaxis=xref, yaxis=yref, showlegend=(i == 0), legendrank=3,
                                     name=NB * 2 + "<i>W̄</i><sub><i>surv.</i></sub>(<i>t</i>)"))
        else:
            layout[ya] = dict(common_y, range=[0, 1.0], tickvals=right_ticks, ticktext=right_tick_text)
            ut, uv = unzip(U_series[i])
            fig.add_trace(go.Scatter(x=ut, y=uv, mode="lines", line=dict(color=ORANGE, width=1.8),
                                     xaxis=xref, yaxis=yref, showlegend=(i == 0), legendrank=2,
                                     name=NB * 2 + "<i>U</i><sub><i>t</i></sub>" + NB * 6))
            annotations.append(dict(text=row_labels[i], x=1162 / W_FIG, y=sum(ydom) / 2,
                                    xref="paper", yref="paper", showarrow=False, textangle=90,
                                    font=dict(family=SERIF, size=22, color=TXT),
                                    xanchor="center", yanchor="middle"))

layout["annotations"] = annotations
fig.update_layout(**layout)
fig.write_html("out.html")
